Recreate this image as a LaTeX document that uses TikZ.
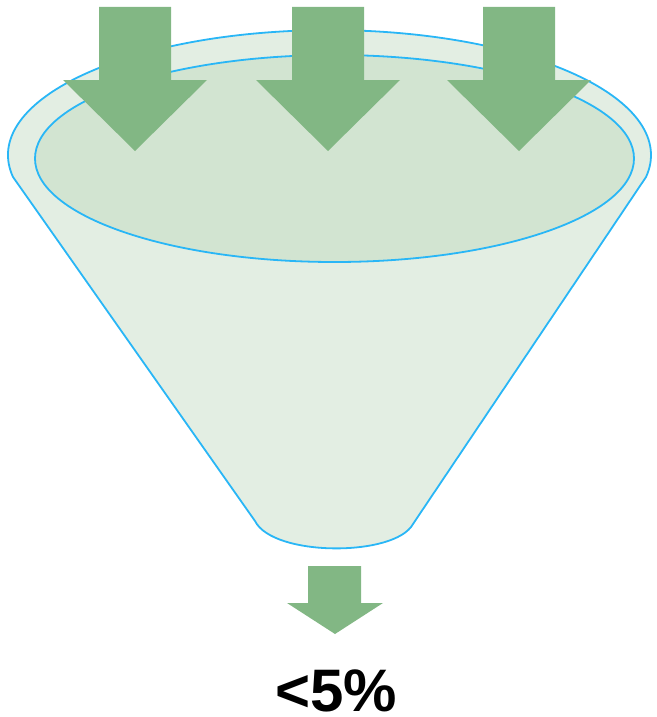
\documentclass[tikz,border=0pt]{standalone}
\usepackage{fontspec}
\setmainfont{Liberation Sans}
\definecolor{arrowgreen}{RGB}{130,183,132}
\definecolor{outerfill}{RGB}{227,238,227}
\definecolor{innerfill}{RGB}{210,228,209}
\definecolor{rimblue}{RGB}{41,182,246}
\tikzset{
  funnelline/.style={draw=rimblue, line width=1.8pt, line join=round},
  greenarrow/.style={fill=arrowgreen, draw=none},
  labeltext/.style={font=\fontsize{60}{62}\selectfont\bfseries, text=black, inner sep=0pt}
}
\begin{document}
\begin{tikzpicture}[x=1pt,y=-1pt]
\useasboundingbox (0,0) rectangle (656,717);
% outer funnel body
\coordinate (lc) at (13,177);
\coordinate (rc) at (655,177);
\coordinate (bl) at (255,521);
\coordinate (br) at (413,524);
\path[funnelline, fill=outerfill]
  (lc) arc[start angle=169.9, end angle=370.1, x radius=321.5, y radius=125]
  -- (br) .. controls (395,557) and (273,557) .. (bl) -- cycle;
% inner rim
\path[funnelline, fill=innerfill] (334.5,158.5) ellipse[x radius=299.5, y radius=103.5];
% incoming arrows
\foreach \cx in {135,328,519}{
  \fill[greenarrow] (\cx-36,7) -- (\cx+36,7) -- (\cx+36,80) -- (\cx+72,80)
    -- (\cx,151) -- (\cx-72,80) -- (\cx-36,80) -- cycle;
}
% outgoing arrow
\fill[greenarrow] (308,566) -- (361,566) -- (361,603) -- (383,603)
  -- (335,634) -- (287,603) -- (308,603) -- cycle;
\node[labeltext, anchor=base] (pct) at (336,711) {<5\%};
\end{tikzpicture}
\end{document}
